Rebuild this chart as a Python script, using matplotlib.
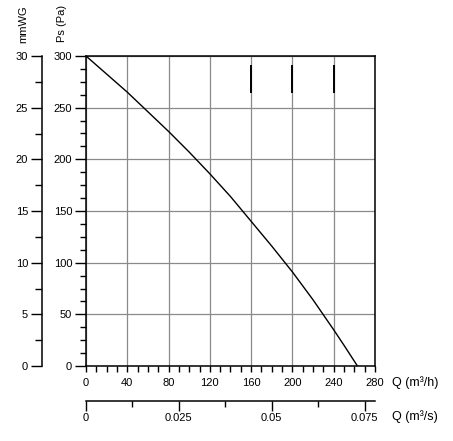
"""Fan performance curve: static pressure vs air flow."""

import matplotlib
matplotlib.use("Agg")
import matplotlib.pyplot as plt
from matplotlib.ticker import MultipleLocator

plt.rcParams['font.family'] = ['Liberation Sans', 'DejaVu Sans']
plt.rcParams['font.size'] = 8

# Curve
q_m3h = [0, 20, 40, 60, 80, 100, 120, 140, 160, 180, 200, 220, 240, 250, 263]
ps_pa = [300, 282.5, 265, 246, 227, 207, 186, 164, 140, 116, 91, 64, 35, 20, 0]

# Short dark marks on some grid lines near the top
mark_q = [160, 200, 240]
mark_lo, mark_hi = 264, 291

q_ticks = [0, 40, 80, 120, 160, 200, 240, 280]
qs_ticks = [0, 0.025, 0.05, 0.075]
qs_labels = ['0', '0.025', '0.05', '0.075']
ps_ticks = [0, 50, 100, 150, 200, 250, 300]
mm_ticks = [0, 5, 10, 15, 20, 25, 30]

W, H = 453, 441
fig = plt.figure(figsize=(W / 100, H / 100), dpi=100)
left, right, top, bottom = 86, 375, 56, 366
ax = fig.add_axes([left / W, 1 - bottom / H, (right - left) / W, (bottom - top) / H])

ax.plot(q_m3h, ps_pa, color='black', lw=1.0, zorder=3)
ax.vlines(mark_q, mark_lo, mark_hi, color='black', lw=1.4, zorder=3)

ax.set_xlim(0, 280)
ax.set_ylim(0, 300)
ax.set_xticks(q_ticks)
ax.set_yticks(ps_ticks)
ax.xaxis.set_minor_locator(MultipleLocator(10))
ax.yaxis.set_minor_locator(MultipleLocator(12.5))
ax.grid(True, which='major', color='#8a8a8a', lw=0.9)
ax.set_axisbelow(True)
for s in ax.spines.values():
    s.set_linewidth(1.1)
ax.tick_params(axis='x', which='both', direction='out', length=4, width=1, pad=5)
ax.tick_params(axis='y', which='major', direction='out', length=8, width=1, pad=2)
ax.tick_params(axis='y', which='minor', direction='out', length=4.5, width=1)

# mmWG scale on the far left
ax2 = ax.twinx()
ax2.set_ylim(0, 30)
ax2.yaxis.set_ticks_position('left')
ax2.spines['left'].set_position(('outward', 31.7))
ax2.spines['left'].set_linewidth(1.1)
for k in ['right', 'top', 'bottom']:
    ax2.spines[k].set_visible(False)
ax2.set_yticks(mm_ticks)
ax2.yaxis.set_minor_locator(MultipleLocator(2.5))
ax2.tick_params(axis='y', which='major', direction='out', length=8, width=1, pad=2)
ax2.tick_params(axis='y', which='minor', direction='out', length=5, width=1)

# m3/s scale below
ax3 = ax.twiny()
ax3.set_xlim(0, 280 / 3600)
ax3.xaxis.set_ticks_position('bottom')
ax3.spines['bottom'].set_position(('outward', 25.2))
ax3.spines['bottom'].set_linewidth(1.1)
for k in ['right', 'top', 'left']:
    ax3.spines[k].set_visible(False)
ax3.set_xticks(qs_ticks)
ax3.set_xticklabels(qs_labels)
ax3.xaxis.set_minor_locator(MultipleLocator(0.0125))
ax3.tick_params(axis='x', which='major', direction='out', length=7, width=1, pad=1.5)
ax3.tick_params(axis='x', which='minor', direction='out', length=4.5, width=1)

fig.text(23 / W, 1 - 5 / H, 'mmWG', rotation=90, ha='center', va='top')
fig.text(62 / W, 1 - 5 / H, 'Ps (Pa)', rotation=90, ha='center', va='top')
fig.text(392 / W, 1 - 383 / H, 'Q (m³/h)', ha='left', va='center', fontsize=9)
fig.text(392 / W, 1 - 417 / H, 'Q (m³/s)', ha='left', va='center', fontsize=9)

fig.savefig('out.png', dpi=100)
